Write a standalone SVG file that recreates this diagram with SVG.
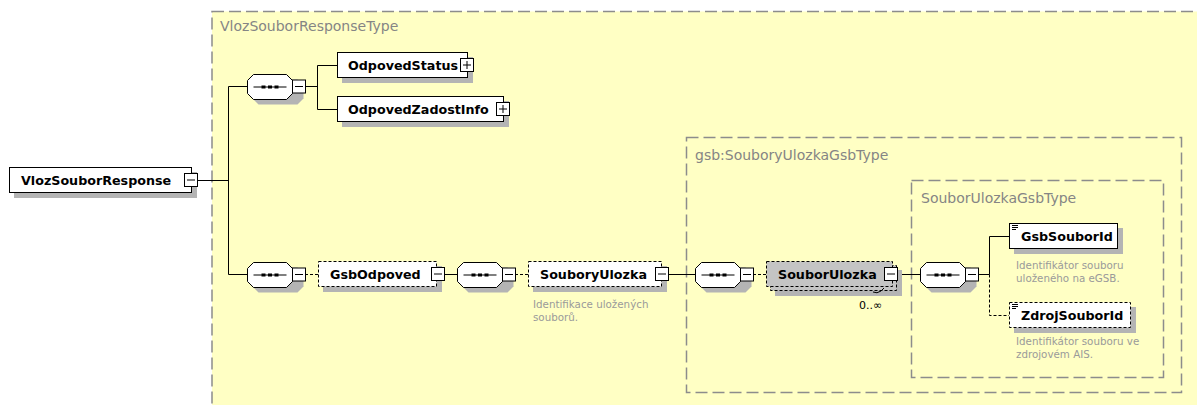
<svg xmlns="http://www.w3.org/2000/svg" xmlns:xlink="http://www.w3.org/1999/xlink" width="1197" height="405" viewBox="0 0 1197 405">
<style>
.bg{fill:#ffffc4;stroke:#8c8c8c;stroke-width:1.5;stroke-dasharray:12 5}
.tt{font-family:"DejaVu Sans",sans-serif;font-size:14px;fill:#858585}
.nm{font-family:"DejaVu Sans",sans-serif;font-size:12.7px;font-weight:bold;fill:#000}
.ds{font-family:"DejaVu Sans",sans-serif;font-size:10.3px;fill:#9a9a9a}
.oc{font-family:"DejaVu Sans",sans-serif;font-size:11px;fill:#000}
.box{fill:#fff;stroke:#000;stroke-width:1}
.dbox{fill:#fff;stroke:#000;stroke-width:1;stroke-dasharray:3 2}
.gbox{fill:#c4c4c4;stroke:#000;stroke-width:1;stroke-dasharray:3 2}
.sh{fill:#b4b4b4}
.ln{fill:none;stroke:#000;stroke-width:1}
.dl{fill:none;stroke:#000;stroke-width:1;stroke-dasharray:3 2}
</style>
<defs>
<g id="seq">
<path d="M11,5 H50 L56,11 V24 L50,30 H11 L5,24 V11 Z" class="sh"/>
<path d="M6,0 H39 L45,6 V19 L39,25 H6 L0,19 V6 Z" fill="#fff" stroke="#000"/>
<line x1="6" y1="12.5" x2="39" y2="12.5" stroke="#000"/>
<rect x="14" y="11" width="4" height="3" fill="#000"/>
<rect x="20.5" y="11" width="4" height="3" fill="#000"/>
<rect x="27" y="11" width="4" height="3" fill="#000"/>
<rect x="45" y="5.5" width="13" height="13" fill="#fff" stroke="#000"/>
<line x1="47.5" y1="12" x2="55.5" y2="12" stroke="#000"/>
</g>
<g id="minus">
<rect x="0" y="0" width="13" height="13" fill="#fff" stroke="#000"/>
<line x1="2.5" y1="6.5" x2="10.5" y2="6.5" stroke="#000"/>
</g>
<g id="plus">
<rect x="0" y="0" width="13" height="13" fill="#fff" stroke="#000"/>
<line x1="2.5" y1="6.5" x2="10.5" y2="6.5" stroke="#000"/>
<line x1="6.5" y1="2.5" x2="6.5" y2="10.5" stroke="#000"/>
</g>
<g id="attr">
<line x1="0" y1="0.5" x2="6" y2="0.5" stroke="#000"/>
<line x1="0" y1="2.5" x2="6" y2="2.5" stroke="#000"/>
<line x1="0" y1="4.5" x2="4" y2="4.5" stroke="#000"/>
</g>
</defs>

<g id="type-VlozSouborResponseType">
<rect class="bg" x="212" y="11.5" width="1000" height="420"/>
<text class="tt" x="220" y="31">VlozSouborResponseType</text>
</g>
<g id="type-SouboryUlozkaGsbType">
<rect class="bg" x="686.5" y="137.5" width="495" height="255"/>
<text class="tt" x="695" y="160">gsb:SouboryUlozkaGsbType</text>
</g>
<g id="type-SouborUlozkaGsbType">
<rect class="bg" x="911.5" y="180.5" width="252" height="197"/>
<text class="tt" x="921" y="203">SouborUlozkaGsbType</text>
</g>

<g id="connectors">
<path class="ln" d="M197,180.5 H228.5 M228.5,86.5 V274.5 M228.5,86.5 H247 M228.5,274.5 H247"/>
<path class="ln" d="M305,86.5 H317.5 M317.5,65.5 V109.5 M317.5,65.5 H337 M317.5,109.5 H337"/>
<path class="dl" d="M305,274.5 H318"/>
<path class="ln" d="M444,274.5 H457"/>
<path class="dl" d="M515,274.5 H528"/>
<path class="ln" d="M668,274.5 H695"/>
<path class="dl" d="M753,274.5 H766"/>
<path class="ln" d="M897,274.5 H920"/>
<path class="ln" d="M978,274.5 H989.5 V236.5 H1009"/>
<path class="dl" d="M989.5,274.5 V315.5 H1009"/>
</g>

<g id="node-VlozSouborResponse">
<rect class="sh" x="14" y="172" width="183" height="26"/>
<rect class="box" x="9.5" y="167.5" width="182" height="25"/>
<use xlink:href="#minus" x="184.5" y="173.5"/>
<text class="nm" x="21" y="185">VlozSouborResponse</text>
</g>

<g id="node-seq1"><use xlink:href="#seq" x="247.5" y="74.5"/></g>

<g id="node-OdpovedStatus">
<rect class="sh" x="342" y="57" width="131" height="26"/>
<rect class="box" x="337.5" y="52.5" width="130" height="25"/>
<use xlink:href="#plus" x="460.5" y="58.5"/>
<text class="nm" x="348" y="70">OdpovedStatus</text>
</g>

<g id="node-OdpovedZadostInfo">
<rect class="sh" x="342" y="101" width="167" height="26"/>
<rect class="box" x="337.5" y="96.5" width="166" height="25"/>
<use xlink:href="#plus" x="496.5" y="102.5"/>
<text class="nm" x="348" y="114">OdpovedZadostInfo</text>
</g>

<g id="node-seq2"><use xlink:href="#seq" x="247.5" y="262.5"/></g>

<g id="node-GsbOdpoved">
<rect class="sh" x="323" y="266" width="119" height="26"/>
<rect class="dbox" x="318.5" y="261.5" width="118" height="25"/>
<use xlink:href="#minus" x="431.5" y="267.5"/>
<text class="nm" x="330" y="279">GsbOdpoved</text>
</g>

<g id="node-seq3"><use xlink:href="#seq" x="457.5" y="262.5"/></g>

<g id="node-SouboryUlozka">
<rect class="sh" x="533" y="266" width="134" height="26"/>
<rect class="dbox" x="528.5" y="261.5" width="133" height="25"/>
<use xlink:href="#minus" x="655.5" y="267.5"/>
<text class="nm" x="540" y="279">SouboryUlozka</text>
<text class="ds" x="533" y="308">Identifikace uložených</text>
<text class="ds" x="533" y="321">souborů.</text>
</g>

<g id="node-seq4"><use xlink:href="#seq" x="695.5" y="262.5"/></g>

<g id="node-SouborUlozka">
<rect class="sh" x="775" y="270" width="127" height="26"/>
<rect class="gbox" x="770.5" y="265.5" width="126" height="25"/>
<rect class="gbox" x="766.5" y="261.5" width="126" height="25"/>
<use xlink:href="#minus" x="884.5" y="267.5"/>
<text class="nm" x="778" y="279">SouborUlozka</text>
<path class="ln" d="M873,292 Q877,294 881,291 L884,288"/>
<text class="oc" x="859" y="309">0..∞</text>
</g>

<g id="node-seq5"><use xlink:href="#seq" x="920.5" y="262.5"/></g>

<g id="node-GsbSouborId">
<rect class="sh" x="1014" y="228" width="109" height="26"/>
<rect class="box" x="1009.5" y="223.5" width="108" height="25"/>
<use xlink:href="#attr" x="1012" y="225"/>
<text class="nm" x="1021" y="241">GsbSouborId</text>
<text class="ds" x="1016" y="269">Identifikátor souboru</text>
<text class="ds" x="1016" y="282">uloženého na eGSB.</text>
</g>

<g id="node-ZdrojSouborId">
<rect class="sh" x="1014" y="307" width="122" height="26"/>
<rect class="dbox" x="1009.5" y="302.5" width="121" height="25"/>
<use xlink:href="#attr" x="1012" y="304"/>
<text class="nm" x="1021" y="320">ZdrojSouborId</text>
<text class="ds" x="1016" y="345">Identifikátor souboru ve</text>
<text class="ds" x="1016" y="358">zdrojovém AIS.</text>
</g>
</svg>
